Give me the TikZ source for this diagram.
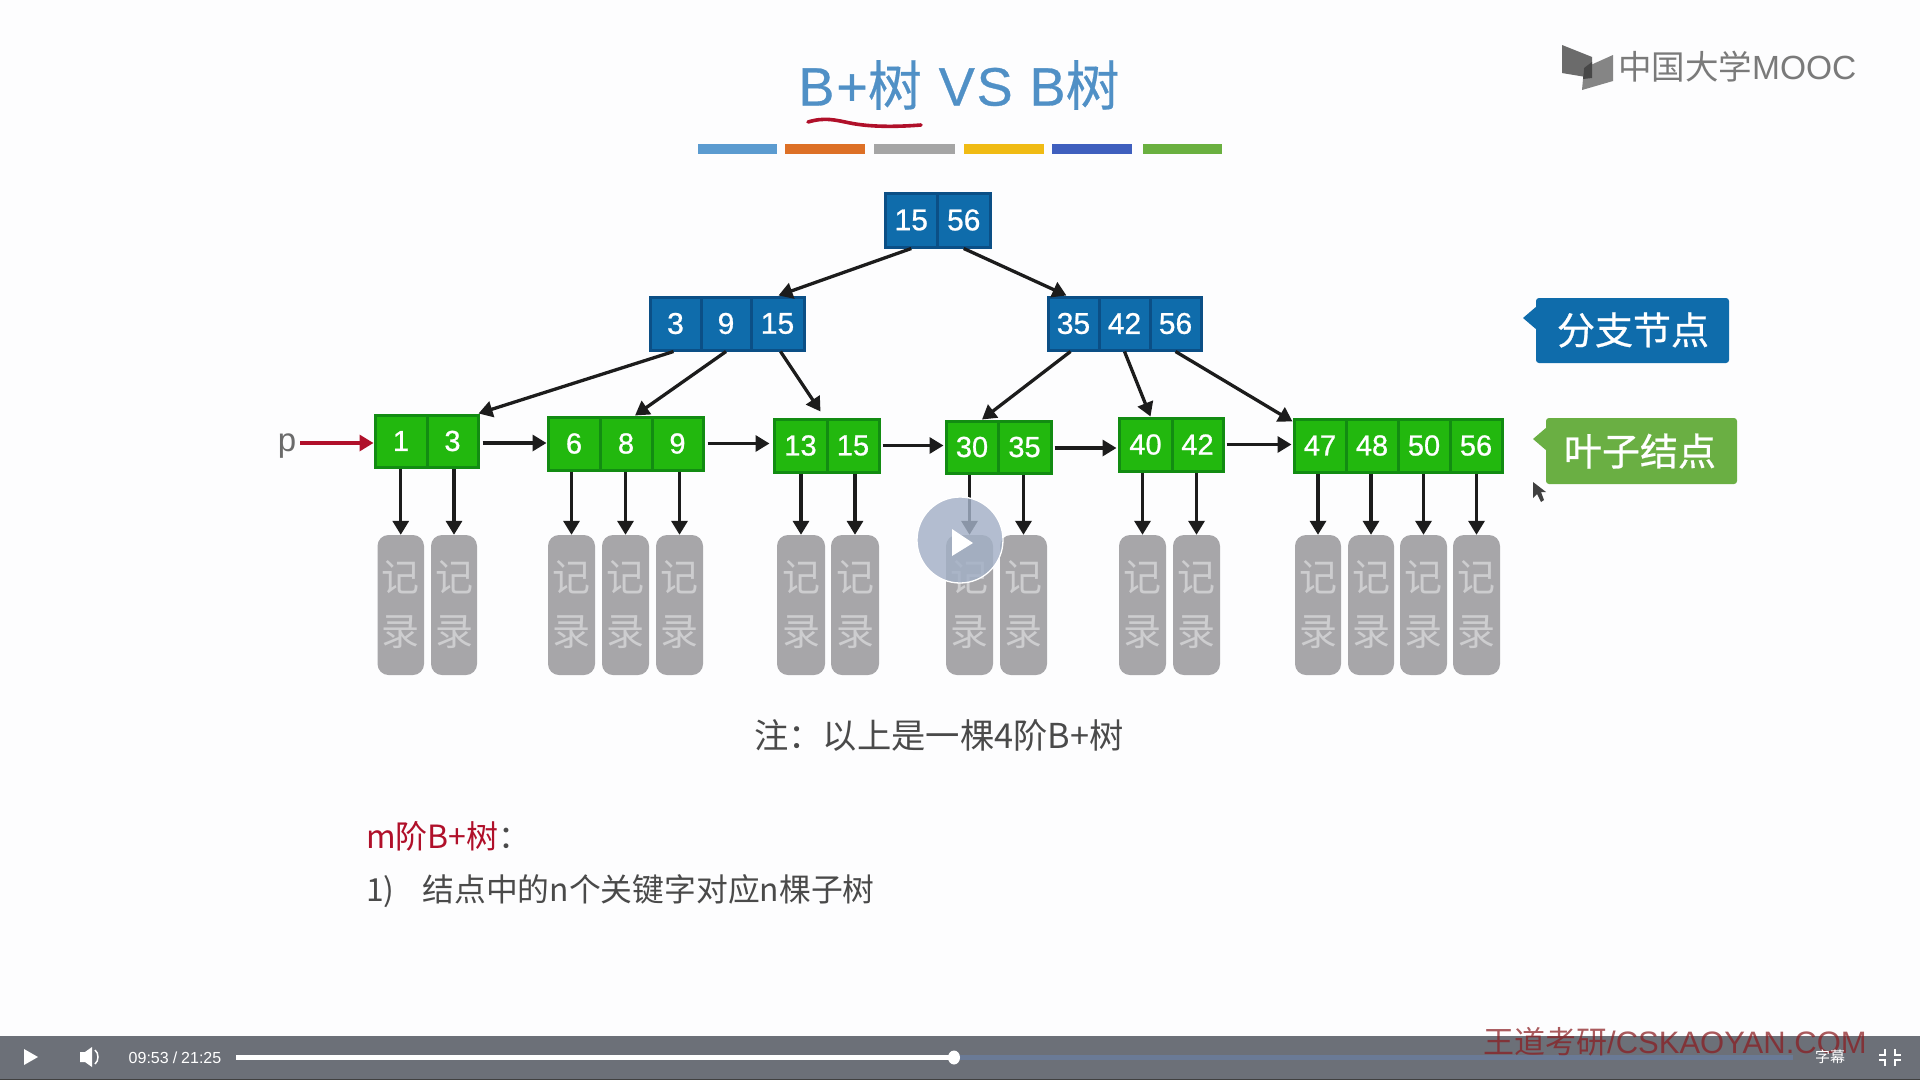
\documentclass[tikz,border=0pt]{standalone}
\usepackage{fontspec}
\usetikzlibrary{arrows.meta,calc}
\setmainfont{Liberation Sans}
\newfontfamily\cjk{Noto Sans CJK SC}
\newfontfamily\cjkb[FakeBold=0.7]{Noto Sans CJK SC}
\newfontfamily\numf[FakeBold=0.8]{Liberation Sans}
\newfontfamily\ttlL[LetterSpace=3.5,FakeBold=0.6]{Liberation Sans}
\newfontfamily\ttlC[LetterSpace=3.5,FakeBold=0.4]{Noto Sans CJK SC}
\newcommand\fsz[1]{\fontsize{#1}{#1}\selectfont}
\definecolor{bgc}{HTML}{FDFDFE}
\definecolor{branchc}{HTML}{0F6CAB}
\definecolor{branchd}{HTML}{0B4F86}
\definecolor{leafc}{HTML}{22B80E}
\definecolor{leafd}{HTML}{128C12}
\definecolor{recc}{HTML}{A7A6A9}
\definecolor{rect}{HTML}{CDCDCF}
\definecolor{titlec}{HTML}{5090C6}
\definecolor{barc}{HTML}{6C7078}
\definecolor{bufc}{HTML}{6A7A96}
\definecolor{redc}{HTML}{B0102A}
\definecolor{wmc}{HTML}{8A1C20}
\definecolor{arrc}{HTML}{1C1C1C}
\definecolor{txtc}{HTML}{4A4A4A}
\definecolor{calleaf}{HTML}{6AAF43}
\definecolor{playc}{HTML}{A3B0C6}
\tikzset{
  branchcell/.style={draw=branchd,fill=branchc,line width=3pt,text=white,inner sep=0pt,font=\numf\fsz{30}},
  leafcell/.style={draw=leafd,fill=leafc,line width=3pt,text=white,inner sep=0pt,font=\numf\fsz{29}},
  recbox/.style={fill=recc,rounded corners=11pt,inner sep=0pt,align=center,text=rect,font=\cjk\fontsize{38}{54}\selectfont},
  arr/.style={draw=arrc,line width=3.3pt,-{Triangle[length=14pt,width=16pt]}},
  stripe/.style={minimum height=10pt,inner sep=0pt},
  calltext/.style={text=white,font=\cjkb\fsz{38},inner sep=0pt},
}
\newcommand\bcell[7]{\node[#1,minimum width={(#4-#3)*1pt},minimum height={(#6-#5)*1pt}] (#2) at ({(#3+#4)/2},{(#5+#6)/2}) {\raisebox{-1.5pt}{#7}};}
\newcommand\recn[3]{\node[recbox,minimum width={(#3-#2)*1pt},minimum height=140pt] (#1) at ({(#2+#3)/2},605) {记\\录};}
\begin{document}
\begin{tikzpicture}[x=1pt,y=-1pt]
\useasboundingbox (0,0) rectangle (1920,1080);
\fill[bgc] (0,0) rectangle (1920,1080);

% title
\node[text=titlec,inner sep=0pt,font=\fsz{54}] (title) at (959,85) {\ttlL B+\ttlC 树\ttlL{} VS B\ttlC 树};
\draw[redc,line width=3.6pt,line cap=round] (808,122) .. controls (825,117) and (835,120) .. (850,123) .. controls (870,127) and (895,127) .. (921,125);
\foreach \n/\a/\b/\c in {s1/698/777/5B9BD0,s2/785/865/DD7026,s3/874/955/A5A5A5,s4/964/1044/F0BB14,s5/1052/1132/3F5FBE,s6/1143/1222/6AB040}{
  \definecolor{tmpc}{HTML}{\c}
  \node[stripe,fill=tmpc,minimum width={(\b-\a)*1pt}] (\n) at ({(\a+\b)/2},148.5) {};
}

% logo
\fill[black!58] (1562,45) -- (1592,57) -- (1592,78) -- (1562,73) -- cycle;
\fill[black!48] (1584,68) -- (1613,55) -- (1613,81) -- (1582,90) -- cycle;
\fill[black!72] (1584,68) -- (1592,62) -- (1592,78) -- (1583,79) -- cycle;
\node[anchor=west,inner sep=0pt,text=black!52,font=\fsz{33.5}] (logo) at (1618,67) {{\cjk 中国大学}MOOC};

% branch cells
\bcell{branchcell}{ra}{885}{937.5}{193}{247}{15}
\bcell{branchcell}{rb}{937.5}{990}{193}{247}{56}
\bcell{branchcell}{aa}{650}{701}{297}{350}{3}
\bcell{branchcell}{ab}{701}{751}{297}{350}{9}
\bcell{branchcell}{ac}{751}{804}{297}{350}{15}
\bcell{branchcell}{ba}{1048}{1099}{297}{350}{35}
\bcell{branchcell}{bb}{1099}{1150}{297}{350}{42}
\bcell{branchcell}{bc}{1150}{1201}{297}{350}{56}

% leaf cells
\bcell{leafcell}{la}{375}{427}{415}{467}{1}
\bcell{leafcell}{lb}{427}{478}{415}{467}{3}
\bcell{leafcell}{ma}{548}{600}{417}{470}{6}
\bcell{leafcell}{mb}{600}{652}{417}{470}{8}
\bcell{leafcell}{mc}{652}{703}{417}{470}{9}
\bcell{leafcell}{na}{774}{827}{419}{472}{13}
\bcell{leafcell}{nb}{827}{879}{419}{472}{15}
\bcell{leafcell}{oa}{946}{998}{421}{473}{30}
\bcell{leafcell}{ob}{998}{1051}{421}{473}{35}
\bcell{leafcell}{pa}{1119}{1172}{418}{471}{40}
\bcell{leafcell}{pb}{1172}{1223}{418}{471}{42}
\bcell{leafcell}{qa}{1294}{1346}{419}{472}{47}
\bcell{leafcell}{qb}{1346}{1398}{419}{472}{48}
\bcell{leafcell}{qc}{1398}{1450}{419}{472}{50}
\bcell{leafcell}{qd}{1450}{1502}{419}{472}{56}

% records
\recn{ra1}{377.5}{424}\recn{ra2}{431}{477}
\recn{rm1}{548}{595}\recn{rm2}{602}{649}\recn{rm3}{656}{703}
\recn{rn1}{777}{825}\recn{rn2}{831}{879}
\recn{ro1}{946}{993}\recn{ro2}{1000}{1047}
\recn{rp1}{1119}{1166}\recn{rp2}{1173}{1220}
\recn{rq1}{1295}{1341}\recn{rq2}{1348}{1394}\recn{rq3}{1400}{1447}\recn{rq4}{1453}{1500}

% tree connectors
\draw[arr] (ra.south) -- ([xshift=1pt]ac.north);
\draw[arr] (rb.south) -- ([xshift=-7pt]ba.north);
\draw[arr] ([xshift=-2pt]aa.south) -- ([xshift=-1pt]lb.north east);
\draw[arr] (ab.south) -- ([xshift=9pt]mb.north);
\draw[arr] ([xshift=3pt]ac.south) -- ([xshift=20pt,yshift=6pt]na.north);
\draw[arr] ([xshift=-3pt]ba.south) -- ([xshift=10pt]oa.north);
\draw[arr] (bb.south) -- ([xshift=5pt]pa.north);
\draw[arr] (bc.south) -- ([yshift=-4pt]qa.north west);

% pointers to records
\foreach \a/\b in {la/ra1,lb/ra2,ma/rm1,mb/rm2,mc/rm3,na/rn1,nb/rn2,oa/ro1,ob/ro2,pa/rp1,pb/rp2,qa/rq1,qb/rq2,qc/rq3,qd/rq4}{
  \draw[arr] (\b.north |- \a.south) -- (\b.north);
}

% sibling links
\draw[arr,shorten <=3pt,shorten >=0pt] ([yshift=-2pt]lb.east) -- ([yshift=-2pt]lb.east -| ma.west);
\draw[arr,shorten <=3pt,shorten >=3pt] (mc.east) -- (mc.east -| na.west);
\draw[arr,shorten <=2pt,shorten >=1pt] (nb.east) -- (nb.east -| oa.west);
\draw[arr,shorten <=2pt,shorten >=1pt] ([yshift=-1pt]ob.east) -- ([yshift=-1pt]ob.east -| pa.west);
\draw[arr,shorten <=2pt,shorten >=1pt] (pb.east) -- (pb.east -| qa.west);

% p pointer
\node[text=black!58,inner sep=0pt,font=\fsz{33}] (pn) at (287,446) {p};
\draw[redc,line width=3.3pt,-{Triangle[length=14pt,width=16pt]}] ([xshift=4pt,yshift=3pt]pn.east) -- ([yshift=-2pt]la.west);

% callouts
\fill[branchc,rounded corners=3pt] (1536,298) -- (1729,298) -- (1729,363) -- (1536,363) -- cycle;
\fill[branchc] (1537,306) -- (1523,318) -- (1537,330) -- cycle;
\node[calltext] (calb) at (1633,330) {分支节点};
\fill[calleaf,rounded corners=3pt] (1546,418) -- (1737,418) -- (1737,484) -- (1546,484) -- cycle;
\fill[calleaf] (1547,427) -- (1533,439) -- (1547,451) -- cycle;
\node[calltext] (call) at (1640,451) {叶子结点};

% cursor
\fill[black!75] (1533,482) -- (1533,498) -- (1537,494) -- (1541,502) -- (1544,500) -- (1541,492) -- (1546,492) -- cycle;

% note
\node[text=txtc,inner sep=0pt,font=\cjk\fsz{34.3}] (note) at (939,735) {注：以上是一棵4阶B+树};
\node[anchor=west,inner sep=0pt,font=\cjk\fsz{32}] (mh) at (366,836) {\textcolor{redc}{m阶B+树}\textcolor{txtc}{：}};
\node[anchor=west,inner sep=0pt,text=txtc,font=\cjk\fsz{31.8}] (ln) at (366,891) {1)\hspace{28pt}结点中的n个关键字对应n棵子树};

% play overlay
\fill[playc,opacity=.82] (960,540) circle (43);
\draw[white,line width=1.3pt] (960,540) circle (43);
\fill[white] (952,529) -- (973,543) -- (952,556) -- cycle;

% player bar
\fill[barc] (0,1036) rectangle (1920,1080);
\fill[black!75] (0,1079) rectangle (1920,1080);
\fill[white] (24,1049) -- (38,1057) -- (24,1065) -- cycle;
\fill[white] (80,1052) -- (85,1052) -- (92,1047) -- (92,1067) -- (85,1062) -- (80,1062) -- cycle;
\draw[white,line width=1.5pt] (95,1050) .. controls (99,1053) and (99,1061) .. (95,1064);
\node[text=white,inner sep=0pt,font=\fsz{16}] (time) at (175,1058) {09:53\hspace{4pt}/\hspace{4pt}21:25};
\fill[bufc] (953,1055) rectangle (1793,1060);
\fill[white] (236,1055) rectangle (953,1060);
\fill[white] (954,1057.5) ellipse (6 and 7);
\draw[white,line width=2.6pt] (1885,1049) -- (1885,1055) -- (1879,1055) (1895,1049) -- (1895,1055) -- (1901,1055) (1885,1066) -- (1885,1060) -- (1879,1060) (1895,1066) -- (1895,1060) -- (1901,1060);
\node[anchor=west,text=wmc,opacity=.72,inner sep=0pt,font=\fsz{31}] (wm) at (1483,1042) {{\cjk 王道考研}/CSKAOYAN.COM};
\node[text=white,inner sep=0pt,font=\cjk\fsz{15}] (sub) at (1830,1057) {字幕};
\end{tikzpicture}
\end{document}
